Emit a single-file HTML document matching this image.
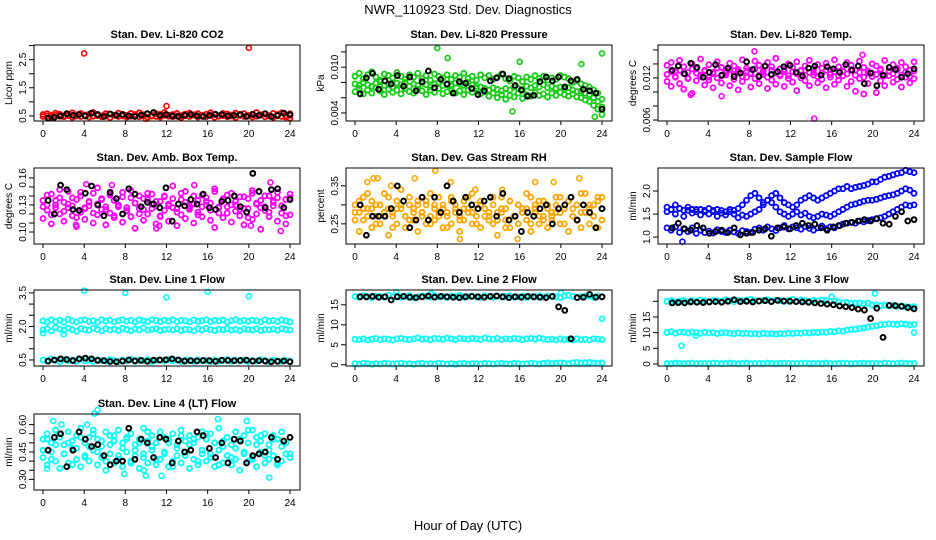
<!DOCTYPE html>
<html><head><meta charset="utf-8">
<style>
body{margin:0;background:#fff;}
svg{display:block;font-family:"Liberation Sans",sans-serif;}
</style></head>
<body>
<svg id="chart" width="936" height="540" viewBox="0 0 936 540">
<rect width="936" height="540" fill="#fff"/>
<text x="468" y="14" text-anchor="middle" font-size="13">NWR_110923  Std. Dev. Diagnostics</text>
<text x="468" y="530" text-anchor="middle" font-size="13">Hour of Day (UTC)</text>
</svg>
<script>
// ---- data ----
const hourTicks = [0,4,8,12,16,20,24];
// P1 CO2
const co2Red1 = [0.55,0.58,0.52,0.6,0.56,0.5,0.57,0.61,0.54,0.59,0.53,0.56,0.62,0.55,0.5,0.58,0.57,0.53,0.6,0.56,0.52,0.59,0.55,0.61,0.54,0.57,0.5,0.58,0.56,0.62,0.53,0.55,0.59,0.51,0.57,0.6,0.54,0.58,0.52,0.56,0.61,0.55,0.5,0.59,0.57,0.53,0.6,0.55,0.58,0.52,0.56,0.62,0.54,0.57,0.5,0.59,0.55,0.61,0.53,0.58];
const co2Red2 = [0.48,0.5,0.46,0.52,0.49,0.47,0.51,0.45,0.5,0.48,0.53,0.46,0.49,0.51,0.47,0.5,0.44,0.52,0.48,0.5,0.46,0.49,0.53,0.47,0.51,0.45,0.5,0.48,0.46,0.52,0.49,0.47,0.5,0.44,0.51,0.48,0.53,0.46,0.5,0.47,0.52,0.45,0.49,0.51,0.47,0.5,0.44,0.52,0.48,0.5,0.46,0.49,0.53,0.47,0.51,0.45,0.5,0.48,0.46,0.52];
const co2RedOutHours = [4,20,12,10,24];
const co2RedOutVals = [2.72,2.92,0.85,0.4,0.42];
const co2Black = [0.42,0.45,0.5,0.58,0.52,0.55,0.5,0.6,0.55,0.48,0.57,0.52,0.55,0.5,0.48,0.53,0.58,0.62,0.52,0.55,0.5,0.48,0.52,0.55,0.5,0.48,0.52,0.56,0.55,0.5,0.52,0.55,0.48,0.55,0.52,0.58,0.48,0.52,0.6,0.55];
// P2 Pressure
const presGreen1 = [0.0088,0.0092,0.0085,0.009,0.0094,0.0087,0.0083,0.0091,0.0089,0.0086,0.0093,0.0088,0.0084,0.009,0.0087,0.0092,0.0085,0.0089,0.0083,0.0091,0.0088,0.0086,0.009,0.0084,0.0089,0.0087,0.0092,0.0085,0.0088,0.0083,0.009,0.0086,0.0089,0.0084,0.0087,0.0091,0.0085,0.0082,0.0088,0.0086,0.0081,0.0087,0.0084,0.0089,0.0085,0.0088,0.0083,0.0086,0.0084,0.0089,0.0087,0.0085,0.008,0.0082,0.0078,0.0076,0.0074,0.007,0.0066,0.0058];
const presGreen2 = [0.0068,0.0072,0.0065,0.007,0.0066,0.0073,0.0069,0.0064,0.0071,0.0067,0.007,0.0065,0.0072,0.0068,0.0066,0.0071,0.0069,0.0064,0.007,0.0067,0.0072,0.0065,0.0068,0.0071,0.0066,0.0069,0.0064,0.007,0.0067,0.0072,0.0065,0.0068,0.0062,0.0066,0.006,0.0064,0.0058,0.0063,0.0061,0.0066,0.0059,0.0064,0.0062,0.0067,0.0063,0.0065,0.0061,0.0066,0.0063,0.0067,0.0064,0.0062,0.0065,0.0061,0.006,0.0057,0.0055,0.005,0.0045,0.0038];
const presGreen3 = [0.0078,0.0076,0.008,0.0077,0.0075,0.0079,0.0081,0.0076,0.0078,0.0074,0.0079,0.0077,0.008,0.0075,0.0078,0.0076,0.0079,0.0077,0.0074,0.0078,0.008,0.0076,0.0077,0.0075,0.0079,0.0078,0.0076,0.008,0.0077,0.0075,0.0074,0.0072,0.007,0.0073,0.0071,0.0069,0.0072,0.007,0.0074,0.0072,0.0071,0.0075,0.0073,0.0076,0.0074,0.0077,0.0073,0.0075,0.0072,0.0074,0.0071,0.0073,0.007,0.0068,0.0069,0.0066,0.0064,0.006,0.0055,0.0048];
const presOutHours = [8,9,16,22,24,15.3,23.3];
const presOutVals = [0.0125,0.0112,0.0107,0.0104,0.0118,0.0042,0.0035];
const presBlack = [0.0065,0.0086,0.0092,0.0071,0.0082,0.0078,0.0089,0.0075,0.0087,0.0069,0.0081,0.0095,0.0073,0.0084,0.0078,0.0066,0.0081,0.0079,0.0072,0.0064,0.0069,0.0082,0.0086,0.0091,0.0085,0.0076,0.007,0.0062,0.0063,0.0081,0.0087,0.0082,0.0087,0.0074,0.0082,0.0084,0.0071,0.0069,0.0066,0.0045];
// P3 Li-820 temp
const tempMag1 = [0.0138,0.0142,0.013,0.0145,0.0136,0.0128,0.014,0.0133,0.0147,0.0131,0.0139,0.0126,0.0143,0.0135,0.0129,0.0141,0.0137,0.0132,0.0146,0.0134,0.0127,0.0144,0.0138,0.013,0.0142,0.0136,0.0148,0.0133,0.0129,0.014,0.0135,0.0143,0.0131,0.0137,0.0145,0.0128,0.0139,0.0134,0.0141,0.0132,0.0146,0.0136,0.0129,0.0142,0.0138,0.0131,0.0144,0.0135,0.0127,0.014,0.0137,0.0133,0.0145,0.013,0.0139,0.0134,0.0142,0.0136,0.0131,0.0143];
const tempMag2 = [0.0115,0.0108,0.0121,0.0112,0.0104,0.0119,0.0098,0.0116,0.0122,0.011,0.0117,0.0106,0.012,0.0113,0.0124,0.0109,0.0118,0.0103,0.0115,0.0121,0.0107,0.0119,0.0112,0.0125,0.0105,0.0117,0.0111,0.0123,0.0108,0.0119,0.0114,0.0102,0.012,0.0116,0.0109,0.0124,0.0113,0.0118,0.0106,0.0121,0.0111,0.0117,0.0123,0.0108,0.0115,0.0101,0.0119,0.0097,0.0112,0.0122,0.0099,0.0116,0.0109,0.0123,0.0114,0.0118,0.0107,0.0121,0.0113,0.0119];
const tempMag3 = [0.0125,0.0129,0.0122,0.0131,0.0126,0.012,0.0133,0.0127,0.0124,0.013,0.0121,0.0128,0.0134,0.0123,0.0127,0.0132,0.0125,0.0129,0.0122,0.013,0.0126,0.0133,0.0124,0.0128,0.0121,0.0131,0.0127,0.0125,0.0132,0.0123,0.0129,0.0126,0.013,0.0124,0.0128,0.0133,0.0122,0.0127,0.0131,0.0125,0.0129,0.0123,0.013,0.0126,0.0132,0.0124,0.0128,0.0121,0.013,0.0127,0.0125,0.0131,0.0123,0.0129,0.0126,0.0132,0.0124,0.0128,0.0122,0.013];
const tempOutHours = [14.3,8.5,19,2.3,5.3];
const tempOutVals = [0.0062,0.0158,0.0153,0.0096,0.0094];
const tempBlack = [0.0131,0.0137,0.0126,0.0141,0.0135,0.0121,0.0128,0.0139,0.0124,0.0134,0.0122,0.0127,0.0143,0.0132,0.0122,0.0137,0.0125,0.0129,0.0136,0.0138,0.0128,0.0123,0.0134,0.0137,0.0124,0.0136,0.0133,0.0128,0.0139,0.0131,0.0137,0.0112,0.0127,0.0109,0.0124,0.0135,0.0132,0.0121,0.0126,0.0133];
// P4 Amb box temp
const ambMag1 = [0.128,0.141,0.119,0.135,0.147,0.123,0.131,0.138,0.116,0.144,0.127,0.133,0.121,0.149,0.136,0.125,0.142,0.118,0.13,0.139,0.124,0.146,0.132,0.12,0.137,0.143,0.126,0.134,0.117,0.14,0.129,0.151,0.122,0.136,0.145,0.127,0.131,0.119,0.141,0.134,0.124,0.148,0.128,0.137,0.121,0.143,0.13,0.125,0.139,0.116,0.146,0.132,0.127,0.14,0.122,0.135,0.144,0.129,0.118,0.138];
const ambMag2 = [0.115,0.124,0.109,0.13,0.12,0.112,0.127,0.118,0.106,0.122,0.114,0.129,0.11,0.119,0.125,0.108,0.121,0.116,0.128,0.111,0.123,0.117,0.104,0.126,0.113,0.12,0.131,0.109,0.118,0.124,0.112,0.127,0.107,0.119,0.115,0.125,0.11,0.122,0.117,0.13,0.113,0.105,0.121,0.116,0.128,0.111,0.123,0.118,0.108,0.126,0.114,0.12,0.103,0.124,0.117,0.129,0.112,0.121,0.109,0.119];
const ambMag3 = [0.135,0.13,0.142,0.127,0.138,0.133,0.145,0.129,0.136,0.14,0.126,0.134,0.143,0.131,0.137,0.128,0.141,0.135,0.13,0.144,0.127,0.138,0.132,0.14,0.125,0.136,0.142,0.129,0.134,0.139,0.131,0.137,0.126,0.143,0.133,0.129,0.14,0.135,0.128,0.138,0.132,0.145,0.127,0.136,0.141,0.13,0.134,0.139,0.126,0.137,0.143,0.131,0.135,0.128,0.14,0.133,0.138,0.129,0.136,0.142];
const ambOutHours = [3.2,11,11.3,20.2,22.1,23.1,4.2,6.7,14.7];
const ambOutVals = [0.108,0.104,0.107,0.107,0.155,0.101,0.153,0.152,0.152];
const ambBlack = [0.135,0.12,0.152,0.147,0.125,0.124,0.143,0.151,0.13,0.118,0.144,0.137,0.12,0.148,0.142,0.128,0.133,0.131,0.127,0.149,0.112,0.131,0.129,0.136,0.131,0.142,0.127,0.125,0.134,0.135,0.14,0.128,0.122,0.165,0.145,0.127,0.147,0.148,0.127,0.136];
// P5 Gas stream RH
const rhOrange1 = [0.28,0.31,0.26,0.33,0.29,0.25,0.3,0.27,0.32,0.24,0.29,0.34,0.27,0.3,0.26,0.31,0.28,0.25,0.33,0.29,0.27,0.3,0.24,0.32,0.28,0.26,0.31,0.29,0.33,0.25,0.3,0.27,0.28,0.32,0.26,0.29,0.24,0.31,0.27,0.3,0.28,0.33,0.25,0.29,0.31,0.26,0.3,0.27,0.32,0.28,0.25,0.31,0.29,0.26,0.33,0.28,0.3,0.27,0.32,0.29];
const rhOrange2 = [0.26,0.23,0.29,0.27,0.24,0.3,0.25,0.28,0.22,0.27,0.25,0.29,0.24,0.26,0.28,0.23,0.27,0.3,0.25,0.26,0.28,0.24,0.27,0.25,0.29,0.23,0.26,0.28,0.25,0.27,0.24,0.29,0.26,0.25,0.22,0.28,0.26,0.24,0.27,0.25,0.29,0.26,0.23,0.28,0.25,0.27,0.24,0.26,0.28,0.25,0.29,0.23,0.27,0.26,0.24,0.28,0.25,0.27,0.24,0.26];
const rhOrange3 = [0.3,0.28,0.32,0.29,0.31,0.27,0.3,0.33,0.29,0.28,0.31,0.3,0.27,0.32,0.29,0.3,0.28,0.31,0.27,0.3,0.32,0.29,0.28,0.31,0.3,0.27,0.29,0.32,0.28,0.3,0.31,0.29,0.27,0.3,0.28,0.32,0.29,0.31,0.27,0.3,0.28,0.29,0.32,0.3,0.27,0.31,0.29,0.28,0.3,0.32,0.29,0.31,0.27,0.3,0.28,0.33,0.29,0.3,0.31,0.32];
const rhOutHours = [1.2,1.8,2.2,5.8,7.8,3.5,9.3,10.2,15.8,17.5,19.3,21.8,14.3,11.7];
const rhOutVals = [0.36,0.37,0.37,0.37,0.39,0.35,0.36,0.21,0.21,0.36,0.36,0.37,0.34,0.34];
const rhBlack = [0.3,0.22,0.27,0.27,0.27,0.29,0.35,0.31,0.24,0.26,0.32,0.26,0.32,0.28,0.35,0.31,0.28,0.32,0.3,0.29,0.31,0.32,0.27,0.33,0.26,0.27,0.23,0.28,0.27,0.29,0.3,0.25,0.29,0.3,0.32,0.26,0.3,0.28,0.24,0.29];
// P6 Sample flow
const sfBlue1 = [1.2,1.15,1.22,1.1,1.18,1.12,1.2,1.08,1.15,1.1,1.13,1.09,1.16,1.12,1.1,1.15,1.11,1.08,1.14,1.12,1.1,1.17,1.2,1.15,1.22,1.18,1.14,1.2,1.25,1.18,1.22,1.2,1.17,1.23,1.19,1.15,1.2,1.24,1.18,1.22,1.2,1.25,1.28,1.3,1.32,1.3,1.35,1.33,1.36,1.38,1.4,1.42,1.45,1.5,1.55,1.6,1.65,1.7,1.68,1.7];
const sfBlue2 = [1.55,1.6,1.5,1.62,1.45,1.58,1.52,1.6,1.48,1.55,1.5,1.58,1.45,1.52,1.48,1.55,1.5,1.42,1.48,1.45,1.5,1.55,1.6,1.7,1.8,1.75,1.65,1.55,1.5,1.45,1.5,1.55,1.48,1.52,1.45,1.42,1.45,1.5,1.48,1.45,1.5,1.55,1.6,1.65,1.7,1.72,1.75,1.78,1.8,1.8,1.82,1.85,1.88,1.9,1.92,1.95,2.0,2.05,2.02,1.95];
const sfBlue3 = [1.65,1.6,1.7,1.62,1.58,1.65,1.6,1.55,1.6,1.58,1.62,1.55,1.6,1.58,1.55,1.6,1.58,1.62,1.7,1.8,1.9,1.95,1.85,1.75,1.8,1.9,1.95,1.85,1.75,1.7,1.65,1.7,1.8,1.85,1.9,1.85,1.8,1.85,1.9,1.95,2.0,2.05,2.05,2.1,2.05,2.08,2.1,2.12,2.15,2.2,2.2,2.25,2.3,2.32,2.35,2.38,2.4,2.45,2.42,2.4];
const sfOutHours = [1.5];
const sfOutVals = [0.9];
const sfBlack = [1.2,1.3,1.18,1.15,1.25,1.2,1.08,1.12,1.15,1.1,1.2,1.05,1.08,1.1,1.15,1.18,1.02,1.2,1.22,1.18,1.25,1.3,1.25,1.28,1.2,1.15,1.22,1.25,1.3,1.32,1.35,1.38,1.35,1.4,1.3,1.28,1.45,1.55,1.35,1.38];
// P7 Line 1 flow
const l1Cyan1 = [2.25,2.2,2.3,2.22,2.28,2.18,2.32,2.25,2.2,2.27,2.3,2.22,2.26,2.19,2.3,2.24,2.28,2.21,2.26,2.3,2.23,2.27,2.2,2.29,2.25,2.22,2.3,2.26,2.21,2.28,2.24,2.3,2.22,2.27,2.25,2.2,2.29,2.23,2.26,2.3,2.21,2.27,2.24,2.29,2.2,2.26,2.3,2.23,2.27,2.22,2.28,2.25,2.2,2.3,2.24,2.27,2.22,2.29,2.25,2.2];
const l1Cyan2 = [1.85,1.9,1.8,1.95,1.88,1.82,1.92,1.85,1.78,1.9,1.86,1.83,1.93,1.87,1.8,1.9,1.84,1.88,1.82,1.91,1.86,1.8,1.89,1.85,1.93,1.83,1.87,1.9,1.81,1.86,1.88,1.84,1.9,1.82,1.87,1.85,1.8,1.89,1.84,1.91,1.86,1.82,1.88,1.85,1.9,1.83,1.87,1.81,1.89,1.86,1.84,1.9,1.82,1.87,1.85,1.88,1.83,1.9,1.86,1.84];
const l1Cyan3 = [0.5,0.45,0.55,0.48,0.42,0.52,0.47,0.5,0.44,0.53,0.46,0.5,0.43,0.51,0.48,0.45,0.52,0.47,0.42,0.5,0.46,0.53,0.44,0.49,0.47,0.51,0.43,0.48,0.5,0.45,0.52,0.46,0.49,0.43,0.5,0.47,0.44,0.51,0.46,0.48,0.42,0.5,0.45,0.47,0.52,0.44,0.49,0.46,0.5,0.43,0.48,0.45,0.51,0.47,0.42,0.49,0.46,0.44,0.48,0.45];
const l1OutHours = [4,8,12,16,20,0,24,2];
const l1OutVals = [3.6,3.5,3.3,3.55,3.35,1.7,2.2,1.65];
const l1Black = [0.45,0.5,0.55,0.52,0.47,0.55,0.58,0.55,0.48,0.47,0.43,0.42,0.45,0.5,0.46,0.48,0.44,0.49,0.5,0.51,0.55,0.5,0.45,0.47,0.46,0.48,0.47,0.44,0.49,0.48,0.47,0.48,0.49,0.45,0.47,0.45,0.42,0.44,0.46,0.42];
// P8 Line 2 flow
const l2Cyan1 = [17.1,16.9,17.3,17,16.8,17.2,17.1,16.9,17.4,17,17.2,16.9,17.1,17.3,16.8,17,17.2,17.1,16.9,17.3,17,17.1,16.8,17.2,17,17.4,16.9,17.1,17.2,17,16.8,17.3,17.1,16.9,17.2,17,17.1,17.3,16.9,17,17.2,16.8,17.1,17,17.3,16.9,17.2,17.1,17,16.8,17.2,17.4,17.1,16.9,17,17.2,17.1,16.9,17.2,17];
const l2Cyan2 = [6.4,6.3,6.5,6.2,6.4,6.6,6.3,6.5,6.4,6.2,6.5,6.6,6.4,6.3,6.5,6.7,6.4,6.5,6.3,6.6,6.5,6.4,6.7,6.5,6.3,6.6,6.5,6.4,6.6,6.5,6.3,6.7,6.5,6.4,6.6,6.3,6.5,6.4,6.6,6.5,6.3,6.5,6.6,6.4,6.7,6.5,6.3,6.4,6.2,6.5,6.3,6.4,6.2,6.5,6.3,6.4,6.2,6.5,6.4,6.3];
const l2Cyan3 = [0.3,0.2,0.4,0.3,0.1,0.3,0.2,0.4,0.3,0.2,0.3,0.4,0.2,0.3,0.1,0.3,0.4,0.2,0.3,0.2,0.4,0.3,0.2,0.3,0.1,0.3,0.4,0.2,0.3,0.3,0.2,0.4,0.3,0.2,0.3,0.4,0.3,0.2,0.4,0.3,0.2,0.3,0.4,0.3,0.2,0.4,0.5,0.3,0.4,0.5,0.4,0.3,0.5,0.6,0.4,0.5,0.6,0.5,0.4,0.5];
const l2OutHours = [24,4,20,7.4];
const l2OutVals = [11.5,18.2,18,17.8];
const l2Black = [17,17,17.1,16.9,17,16.2,17,17.1,16.9,16.8,17,17.2,16.9,17.1,17,16.9,16.8,17,17.1,17,16.9,17.1,17.2,17,16.8,17,16.9,17.1,17,16.9,16.8,17.1,14.5,13.6,6.5,16.8,16.9,17.6,16.9,17];
// P9 Line 3 flow
const l3Cyan1 = [20,20.2,19.8,20.1,20.3,19.9,20.2,20,20.4,20.1,19.9,20.3,20.2,20,20.5,20.2,19.9,20.3,20.1,20.4,20.6,20.2,20,20.3,20.5,20.1,20.4,20.2,19.9,20.3,20.6,20.1,20.4,20.2,20,20.3,20.1,20.4,20.2,19.9,20.1,19.8,19.5,19.6,19.3,19.4,19.5,19.2,19.4,18.8,18.9,18.6,18.8,18.5,18.7,18.4,18.5,18.3,18.2,18.3];
const l3Cyan2 = [10,10.3,9.8,10.2,10.1,9.9,10.2,10,9.8,10.1,9.9,10,9.7,9.9,10,9.8,9.6,9.9,9.7,9.8,9.6,9.7,9.5,9.8,9.6,9.7,9.5,9.7,9.6,9.8,9.7,9.9,9.8,10,9.9,10.1,10,10.2,10.1,10.4,10.3,10.6,10.5,10.8,11,11.1,11.3,11.5,11.8,12,12.2,12.5,12.6,12.8,12.7,12.6,12.8,12.7,12.5,12.6];
const l3Cyan3 = [0.2,0.1,0.3,0.2,0.1,0.2,0.3,0.1,0.2,0.2,0.1,0.3,0.2,0.1,0.2,0.3,0.2,0.1,0.2,0.3,0.1,0.2,0.2,0.1,0.3,0.2,0.1,0.2,0.3,0.2,0.1,0.2,0.2,0.3,0.1,0.2,0.2,0.1,0.3,0.2,0.1,0.2,0.3,0.2,0.1,0.2,0.2,0.3,0.1,0.2,0.2,0.1,0.3,0.2,0.1,0.2,0.3,0.2,0.1,0.2];
const l3OutHours = [1.4,2.8,20.2,24,16];
const l3OutVals = [5.8,9,22.5,10,21.5];
const l3Black = [19.5,19.6,19.5,19.8,19.7,19.6,19.8,19.9,19.7,20,20.5,19.9,20,19.8,20.1,20.2,19.9,20.3,20.1,20,19.9,19.8,19.7,19.5,19.3,19.1,18.9,18.5,18.3,18,17.5,17.2,14.5,17.8,8.5,18.7,18.6,18.4,18,17.6];
// P10 Line 4 (LT) flow
const l4Cyan1 = [0.46,0.52,0.41,0.49,0.55,0.44,0.5,0.38,0.47,0.53,0.42,0.48,0.57,0.45,0.51,0.4,0.49,0.54,0.43,0.47,0.52,0.39,0.46,0.5,0.44,0.56,0.48,0.41,0.53,0.45,0.5,0.37,0.47,0.54,0.43,0.49,0.52,0.4,0.46,0.55,0.44,0.5,0.38,0.48,0.53,0.42,0.47,0.51,0.45,0.57,0.41,0.49,0.54,0.43,0.46,0.52,0.39,0.48,0.5,0.44];
const l4Cyan2 = [0.42,0.38,0.45,0.4,0.36,0.44,0.39,0.47,0.41,0.37,0.43,0.4,0.46,0.38,0.42,0.35,0.44,0.39,0.41,0.37,0.45,0.4,0.43,0.36,0.42,0.39,0.46,0.38,0.41,0.44,0.37,0.4,0.43,0.39,0.45,0.36,0.41,0.38,0.44,0.4,0.42,0.37,0.46,0.39,0.43,0.38,0.41,0.35,0.44,0.4,0.42,0.37,0.45,0.39,0.41,0.43,0.38,0.4,0.44,0.42];
const l4Cyan3 = [0.52,0.55,0.5,0.57,0.53,0.49,0.56,0.51,0.54,0.58,0.5,0.53,0.55,0.52,0.48,0.56,0.54,0.51,0.57,0.5,0.53,0.55,0.49,0.52,0.58,0.51,0.54,0.5,0.56,0.53,0.52,0.55,0.49,0.57,0.51,0.54,0.5,0.53,0.56,0.52,0.55,0.5,0.58,0.51,0.53,0.49,0.56,0.52,0.54,0.5,0.57,0.53,0.51,0.55,0.49,0.54,0.52,0.56,0.5,0.53];
const l4OutHours = [1,1.8,4.3,5,5.3,7.9,10,11.5,17,19.8,22,9.8,0.4];
const l4OutVals = [0.62,0.6,0.6,0.66,0.68,0.33,0.32,0.32,0.63,0.62,0.31,0.35,0.36];
const l4Black = [0.46,0.53,0.55,0.37,0.46,0.56,0.52,0.48,0.49,0.43,0.38,0.4,0.4,0.58,0.41,0.52,0.5,0.42,0.53,0.52,0.39,0.51,0.45,0.46,0.56,0.54,0.47,0.42,0.5,0.39,0.52,0.51,0.39,0.43,0.44,0.45,0.53,0.41,0.51,0.53];

// ---- layout ----
const NS = 'http://www.w3.org/2000/svg';
const svg = document.getElementById('chart');
const colLeft = [34, 346, 658];
const rowTop = [45, 168, 290, 414];
const BW = 266, BH = 76;
const RED='#ff0000', GREEN='#11cc11', MAG='#ff00ff', ORA='#ffa500', BLUE='#0000ff', CYAN='#00ffff', BLK='#000000';

const panels = [
 {key:'co2', title:'Stan. Dev. Li-820 CO2', ylab:'Licor ppm', col:0,row:0, ymin:0.32,ymax:3.02, ticks:[0.5,1,1.5,2,2.5,3], labels:['0.5','','1.5','','2.5',''],
  series:[[co2Red1,RED],[co2Red2,RED]], out:[co2RedOutHours,co2RedOutVals,RED], black:co2Black},
 {key:'pressure', title:'Stan. Dev. Li-820 Pressure', ylab:'kPa', col:1,row:0, ymin:0.00295,ymax:0.0129, ticks:[0.004,0.006,0.008,0.010,0.012], labels:['0.004','','','0.010',''],
  series:[[presGreen1,GREEN],[presGreen2,GREEN],[presGreen3,GREEN]], out:[presOutHours,presOutVals,GREEN], black:presBlack},
 {key:'li820-temp', title:'Stan. Dev. Li-820 Temp.', ylab:'degrees C', col:2,row:0, ymin:0.00586,ymax:0.0167, ticks:[0.006,0.008,0.010,0.012,0.014,0.016], labels:['0.006','','','0.012','',''],
  series:[[tempMag1,MAG],[tempMag2,MAG],[tempMag3,MAG]], out:[tempOutHours,tempOutVals,MAG], black:tempBlack},
 {key:'amb-box-temp', title:'Stan. Dev. Amb. Box Temp.', ylab:'degrees C', col:0,row:1, ymin:0.0867,ymax:0.171, ticks:[0.10,0.11,0.12,0.13,0.14,0.15,0.16], labels:['0.10','','','0.13','','','0.16'],
  series:[[ambMag1,MAG],[ambMag2,MAG],[ambMag3,MAG]], out:[ambOutHours,ambOutVals,MAG], black:ambBlack},
 {key:'gas-rh', title:'Stan. Dev. Gas Stream RH', ylab:'percent', col:1,row:1, ymin:0.197,ymax:0.397, ticks:[0.25,0.30,0.35], labels:['0.25','','0.35'],
  series:[[rhOrange1,ORA],[rhOrange2,ORA],[rhOrange3,ORA]], out:[rhOutHours,rhOutVals,ORA], black:rhBlack},
 {key:'sample-flow', title:'Stan. Dev. Sample Flow', ylab:'ml/min', col:2,row:1, ymin:0.85,ymax:2.5, ticks:[1.0,1.5,2.0], labels:['1.0','1.5','2.0'],
  series:[[sfBlue1,BLUE],[sfBlue2,BLUE],[sfBlue3,BLUE]], out:[sfOutHours,sfOutVals,BLUE], black:sfBlack},
 {key:'line1-flow', title:'Stan. Dev. Line 1 Flow', ylab:'ml/min', col:0,row:2, ymin:0.23,ymax:3.63, ticks:[0.5,1,1.5,2,2.5,3,3.5], labels:['0.5','','','2.0','','','3.5'],
  series:[[l1Cyan1,CYAN],[l1Cyan2,CYAN],[l1Cyan3,CYAN]], out:[l1OutHours,l1OutVals,CYAN], black:l1Black},
 {key:'line2-flow', title:'Stan. Dev. Line 2 Flow', ylab:'ml/min', col:1,row:2, ymin:-0.3,ymax:18.7, ticks:[0,5,10,15], labels:['0','5','10','15'],
  series:[[l2Cyan1,CYAN],[l2Cyan2,CYAN],[l2Cyan3,CYAN]], out:[l2OutHours,l2OutVals,CYAN], black:l2Black},
 {key:'line3-flow', title:'Stan. Dev. Line 3 Flow', ylab:'ml/min', col:2,row:2, ymin:-0.64,ymax:23.6, ticks:[0,5,10,15,20], labels:['0','5','10','15',''],
  series:[[l3Cyan1,CYAN],[l3Cyan2,CYAN],[l3Cyan3,CYAN]], out:[l3OutHours,l3OutVals,CYAN], black:l3Black},
 {key:'line4-flow', title:'Stan. Dev. Line 4 (LT) Flow', ylab:'ml/min', col:0,row:3, ymin:0.242,ymax:0.658, ticks:[0.30,0.35,0.40,0.45,0.50,0.55,0.60], labels:['0.30','','','0.45','','','0.60'],
  series:[[l4Cyan1,CYAN],[l4Cyan2,CYAN],[l4Cyan3,CYAN]], out:[l4OutHours,l4OutVals,CYAN], black:l4Black}
];

function mk(tag, attrs, parent){
  const e = document.createElementNS(NS, tag);
  for (const k in attrs) e.setAttribute(k, attrs[k]);
  (parent||svg).appendChild(e);
  return e;
}

panels.forEach(p => {
  const L = colLeft[p.col], T = rowTop[p.row], B = T + BH;
  const xs = h => L + 9 + h / 24 * 247;
  const ys = v => B - (v - p.ymin) / (p.ymax - p.ymin) * BH;
  const g = mk('g', {});
  
  

  const t = mk('text', {x: L + BW/2, y: T - 7, 'text-anchor':'middle', 'font-size':'11', 'font-weight':'bold'}, g);
  t.textContent = p.title;
  
  

  const yl = mk('text', {transform:`translate(${L-22},${T+BH/2}) rotate(-90)`, 'text-anchor':'middle', 'font-size':'10'}, g);
  yl.textContent = p.ylab;
  
  

  const pts = mk('g', {fill:'none'}, g);
  
  
  p.series.forEach(([vals, color]) => {
    vals.forEach((v, i) => {
      const c = mk('circle', {cx: xs(i * 24 / (vals.length - 1)), cy: ys(v), r: 2.5, stroke: color, 'stroke-width': 1.8}, pts);
      
      
    });
  });
  const [oh, ov, oc] = p.out;
  oh.forEach((h, i) => {
    const c = mk('circle', {cx: xs(h), cy: ys(ov[i]), r: 2.5, stroke: oc, 'stroke-width': 1.6}, pts);
    
    
  });
  p.black.forEach((v, i) => {
    const c = mk('circle', {cx: xs(0.5 + i * 23.5 / (p.black.length - 1)), cy: ys(v), r: 2.4, stroke: BLK, 'stroke-width': 2.0}, pts);
    
    
  });

  const box = mk('rect', {x: L, y: T, width: BW, height: BH, fill: 'none', stroke: '#000', 'stroke-width': 1}, g);
  
  

  p.ticks.forEach((v, i) => {
    const y = ys(v);
    mk('line', {x1: L - 5, x2: L, y1: y, y2: y, stroke: '#000'}, g);
    if (p.labels[i]) {
      const tl = mk('text', {transform:`translate(${L-8},${y}) rotate(-90)`, 'text-anchor':'middle', 'font-size':'10'}, g);
      tl.textContent = p.labels[i];
      
      
    }
  });
  hourTicks.forEach(h => {
    const x = xs(h);
    mk('line', {x1: x, x2: x, y1: B, y2: B + 4, stroke: '#000'}, g);
    const tl = mk('text', {x: x, y: B + 16, 'text-anchor':'middle', 'font-size':'10'}, g);
    tl.textContent = h;
    
    
  });
});
</script>
</body></html>
